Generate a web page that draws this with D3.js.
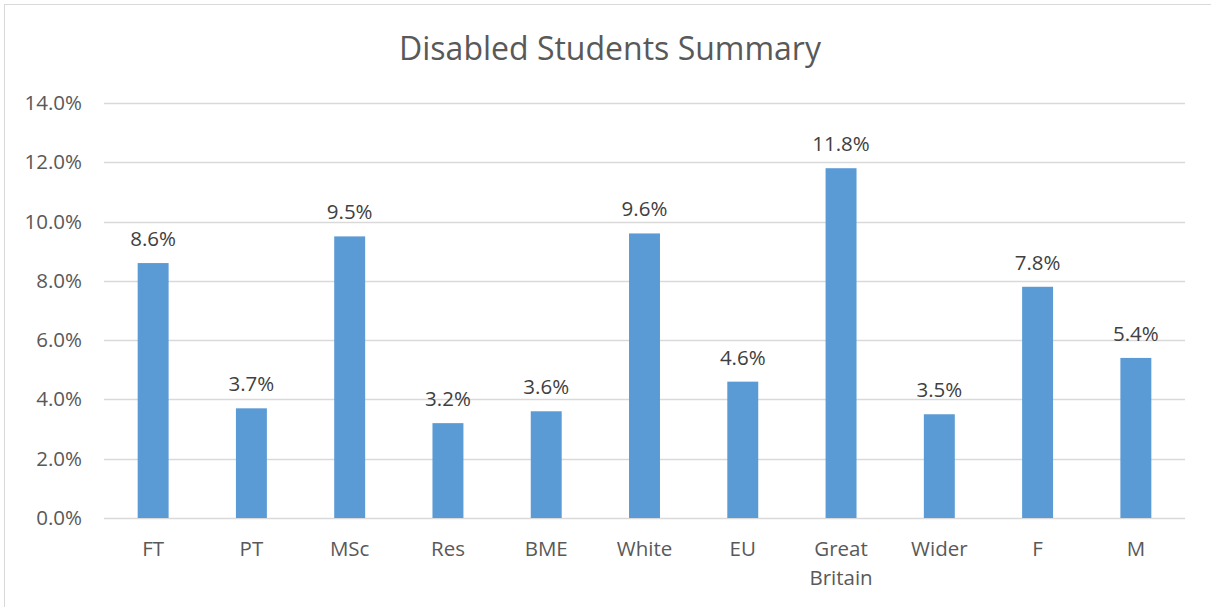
<!DOCTYPE html>
<html>
<head>
<meta charset="utf-8">
<script src="https://cdn.jsdelivr.net/npm/d3@7"></script>
<style>
  html, body { margin: 0; padding: 0; background: #fff; }
  svg { display: block; font-family: "Open Sans", Lato, sans-serif; }
</style>
</head>
<body>
<svg id="chart" width="1211" height="607"></svg>
<script>
const categories = ["FT", "PT", "MSc", "Res", "BME", "White", "EU", "Great Britain", "Wider", "F", "M"];
const values = [8.6, 3.7, 9.5, 3.2, 3.6, 9.6, 4.6, 11.8, 3.5, 7.8, 5.4];
const yTicks = [0, 2, 4, 6, 8, 10, 12, 14];
const title = "Disabled Students Summary";

const svg = d3.select("#chart");
const W = 1211, H = 607;
const plot = { left: 104, right: 1185, top: 103, bottom: 518 };
const fontSize = 20.5;

// chart frame
svg.append("rect")
  .attr("x", 4.5).attr("y", 4.5)
  .attr("width", W + 10).attr("height", H + 10)
  .attr("fill", "#fff").attr("stroke", "#d9d9d9").attr("stroke-width", 1);

const x = d3.scaleBand().domain(categories).range([plot.left, plot.right]).paddingInner(0.685).paddingOuter(0.3425);
const y = d3.scaleLinear().domain([0, 14]).range([plot.bottom, plot.top]);

// gridlines
svg.append("g").selectAll("line").data(yTicks).join("line")
  .attr("x1", plot.left).attr("x2", plot.right)
  .attr("y1", d => Math.round(y(d)) + 0.5).attr("y2", d => Math.round(y(d)) + 0.5)
  .attr("stroke", "#d9d9d9").attr("stroke-width", 1.5);

// y axis labels
const yAxis = d3.axisLeft(y).tickValues(yTicks).tickFormat(d => d.toFixed(1) + "%").tickSize(0).tickPadding(22);
const gy = svg.append("g").attr("transform", `translate(${plot.left},0)`).call(yAxis);
gy.select(".domain").remove();
gy.selectAll("text").attr("fill", "#595959").attr("font-size", fontSize).attr("font-family", "'Open Sans', sans-serif");

// bars
svg.append("g").selectAll("rect").data(values).join("rect")
  .attr("x", (d, i) => x(categories[i]))
  .attr("width", x.bandwidth())
  .attr("y", d => y(d))
  .attr("height", d => y(0) - y(d))
  .attr("fill", "#5b9bd5");

// value labels
svg.append("g").selectAll("text").data(values).join("text")
  .attr("x", (d, i) => x(categories[i]) + x.bandwidth() / 2)
  .attr("y", d => y(d) - 17)
  .attr("text-anchor", "middle")
  .attr("fill", "#404040").attr("font-size", fontSize)
  .text(d => d.toFixed(1) + "%");

// category labels (wrapped on spaces)
const xl = svg.append("g").selectAll("text").data(categories).join("text")
  .attr("x", d => x(d) + x.bandwidth() / 2)
  .attr("y", 556)
  .attr("text-anchor", "middle")
  .attr("fill", "#595959").attr("font-size", fontSize);
xl.each(function(d) {
  const t = d3.select(this);
  const cx = +t.attr("x");
  d.split(" ").forEach((w, k) => {
    t.append("tspan").attr("x", cx).attr("dy", k === 0 ? 0 : 29).text(w);
  });
});

// title
svg.append("text")
  .attr("x", 610).attr("y", 60)
  .attr("text-anchor", "middle")
  .attr("fill", "#595959").attr("font-size", 32)
  .text(title);
</script>
</body>
</html>
